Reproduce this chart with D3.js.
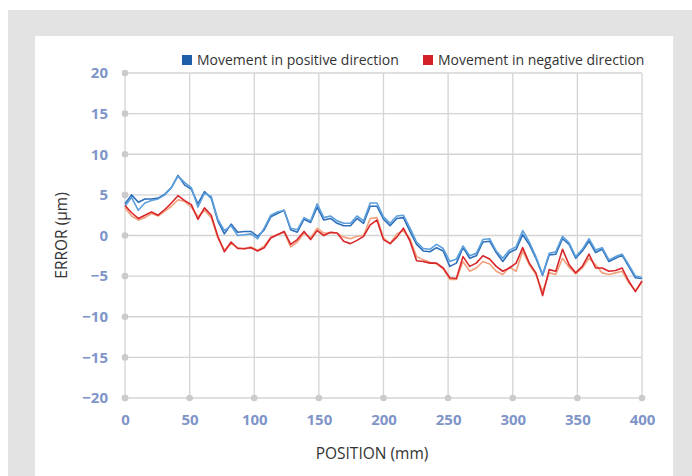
<!DOCTYPE html>
<html>
<head>
<meta charset="utf-8">
<script src="https://cdn.jsdelivr.net/npm/d3@7"></script>
<style>
    body { margin: 0; background: #ffffff; }
    svg { display: block; font-family: "Open Sans", "Noto Sans", sans-serif; }
</style>
</head>
<body>
<div id="chart"></div>
<script>
// measured positions (mm)
const positions = [
    0, 5.1, 10.3, 15.4, 20.5, 25.6, 30.8, 35.9, 41.0, 46.2,
    51.3, 56.4, 61.5, 66.7, 71.8, 76.9, 82.1, 87.2, 92.3, 97.4,
    102.6, 107.7, 112.8, 117.9, 123.1, 128.2, 133.3, 138.5, 143.6, 148.7,
    153.8, 159.0, 164.1, 169.2, 174.4, 179.5, 184.6, 189.7, 194.9, 200.0,
    205.1, 210.3, 215.4, 220.5, 225.6, 230.8, 235.9, 241.0, 246.2, 251.3,
    256.4, 261.5, 266.7, 271.8, 276.9, 282.1, 287.2, 292.3, 297.4, 302.6,
    307.7, 312.8, 317.9, 323.1, 328.2, 333.3, 338.5, 343.6, 348.7, 353.8,
    359.0, 364.1, 369.2, 374.4, 379.5, 384.6, 389.7, 394.9, 400.0,
];

// error (um), two runs per direction
const positiveRun1 = [
    3.9, 5.0, 4.1, 4.5, 4.5, 4.6, 5.1, 5.9, 7.4, 6.2,
    5.7, 3.9, 5.4, 4.6, 1.8, 0.2, 1.4, 0.4, 0.5, 0.5,
    -0.1, 0.7, 2.3, 2.7, 3.1, 0.7, 0.4, 2.0, 1.6, 3.5,
    1.9, 2.1, 1.5, 1.2, 1.2, 2.1, 1.5, 3.6, 3.6, 2.0,
    1.2, 2.1, 2.2, 0.5, -1.1, -1.9, -2.0, -1.5, -1.9, -3.8,
    -3.4, -1.5, -2.8, -2.5, -0.8, -0.7, -2.1, -3.2, -2.1, -1.7,
    0.1, -1.1, -2.8, -4.9, -2.4, -2.3, -0.4, -1.1, -2.8, -1.9,
    -0.7, -2.1, -1.7, -3.2, -2.8, -2.4, -3.8, -5.2, -5.3,
];
const positiveRun2 = [
    3.6, 4.7, 3.1, 4.0, 4.3, 4.5, 5.0, 5.9, 7.3, 6.5,
    5.9, 3.5, 5.2, 4.8, 2.0, 0.6, 1.2, 0.0, 0.1, 0.2,
    -0.4, 0.9, 2.5, 2.9, 3.1, 0.9, 0.7, 2.2, 1.8, 3.9,
    2.2, 2.4, 1.8, 1.5, 1.5, 2.4, 1.8, 4.0, 4.0, 2.3,
    1.5, 2.4, 2.5, 0.9, -0.8, -1.6, -1.7, -1.1, -1.6, -3.2,
    -2.9, -1.3, -2.5, -2.2, -0.5, -0.4, -1.9, -2.8, -1.8, -1.4,
    0.6, -0.8, -2.6, -4.8, -2.2, -2.0, -0.1, -0.9, -2.6, -1.7,
    -0.4, -1.8, -1.5, -3.0, -2.6, -2.3, -3.6, -5.0, -5.2,
];
const negativeRun1 = [
    3.7, 2.8, 2.1, 2.5, 2.9, 2.5, 3.2, 4.0, 4.9, 4.3,
    3.8, 2.0, 3.4, 2.5, -0.1, -2.0, -0.8, -1.6, -1.6, -1.5,
    -1.9, -1.5, -0.3, 0.1, 0.5, -1.1, -0.5, 0.5, -0.5, 0.6,
    0.0, 0.4, 0.3, -0.7, -1.0, -0.6, -0.1, 1.3, 1.9, -0.5,
    -1.0, -0.2, 0.9, -0.7, -3.1, -3.2, -3.4, -3.4, -4.0, -5.2,
    -5.3, -2.6, -3.8, -3.4, -2.5, -2.9, -3.8, -4.4, -4.0, -3.4,
    -1.5, -3.4, -4.6, -7.4, -4.2, -4.4, -1.7, -3.6, -4.6, -3.8,
    -2.3, -4.0, -4.0, -4.4, -4.3, -4.0, -5.6, -6.9, -5.6,
];
const negativeRun2 = [
    3.4, 2.4, 1.9, 2.2, 2.7, 2.4, 3.0, 3.6, 4.4, 4.2,
    3.5, 2.3, 3.1, 2.2, -0.3, -1.8, -1.0, -1.5, -1.7, -1.4,
    -1.8, -1.3, -0.2, 0.1, 0.4, -1.4, -0.8, 0.3, -0.3, 0.9,
    0.3, 0.3, 0.3, -0.2, -0.4, -0.1, 0.0, 2.1, 2.2, -0.3,
    -1.0, 0.2, 0.6, -0.4, -2.6, -3.0, -3.3, -3.5, -4.1, -5.4,
    -5.4, -3.2, -4.4, -4.0, -3.2, -3.5, -4.4, -4.8, -3.9, -4.4,
    -1.9, -3.6, -4.8, -6.9, -4.6, -4.8, -2.8, -3.9, -4.7, -4.0,
    -2.8, -3.6, -4.6, -4.8, -4.6, -4.4, -5.8, -6.8, -5.7,
];

const xTicks = [0, 50, 100, 150, 200, 250, 300, 350, 400];
const yTicks = [-20, -15, -10, -5, 0, 5, 10, 15, 20];
const legendLabels = ['Movement in positive direction', 'Movement in negative direction'];

const WIDTH = 692;
const HEIGHT = 476;
const TICK_COLOR = '#7f95c9';
const GRID_COLOR = '#d4d4d4';

const series = [
    { values: positiveRun1, color: '#2e6fba' },
    { values: positiveRun2, color: '#5c9fdc' },
    { values: negativeRun2, color: '#f2a07c' },
    { values: negativeRun1, color: '#d8262a' },
];

const svg = d3.select('#chart')
    .append('svg')
    .attr('width', WIDTH)
    .attr('height', HEIGHT);

// frame
svg.append('rect')
    .attr('x', 8).attr('y', 10)
    .attr('width', WIDTH - 8).attr('height', HEIGHT - 10)
    .attr('fill', '#e3e3e3');
svg.append('rect')
    .attr('x', 35).attr('y', 36)
    .attr('width', 638).attr('height', HEIGHT - 36)
    .attr('fill', '#ffffff');

const x = d3.scaleLinear().domain([0, 400]).range([125, 642]);
const y = d3.scaleLinear().domain([-20, 20]).range([398, 73]);

// grid
svg.append('g')
    .selectAll('line')
    .data(yTicks)
    .enter()
    .append('line')
    .attr('x1', x(0)).attr('x2', x(400))
    .attr('y1', d => y(d)).attr('y2', d => y(d))
    .attr('stroke', GRID_COLOR)
    .attr('stroke-width', 1.3);

svg.append('g')
    .selectAll('line')
    .data(xTicks)
    .enter()
    .append('line')
    .attr('x1', d => x(d)).attr('x2', d => x(d))
    .attr('y1', y(20)).attr('y2', y(-20))
    .attr('stroke', GRID_COLOR)
    .attr('stroke-width', 1.3);

// tick dots
svg.append('g')
    .selectAll('circle')
    .data(yTicks)
    .enter()
    .append('circle')
    .attr('cx', x(0)).attr('cy', d => y(d))
    .attr('r', 3.3)
    .attr('fill', '#cbcbcb');

svg.append('g')
    .selectAll('circle')
    .data(xTicks)
    .enter()
    .append('circle')
    .attr('cx', d => x(d)).attr('cy', y(-20))
    .attr('r', 3.3)
    .attr('fill', '#cbcbcb');

// axes, labels only
svg.append('g')
    .attr('transform', `translate(0,${y(-20) + 12})`)
    .call(d3.axisBottom(x).tickValues(xTicks).tickSize(0).tickPadding(4))
    .call(g => g.select('.domain').remove())
    .selectAll('text')
    .attr('fill', TICK_COLOR)
    .attr('font-size', 15)
    .attr('font-weight', 'bold')
    .attr('font-family', '"Open Sans", sans-serif');

svg.append('g')
    .attr('transform', `translate(${x(0) - 14},0)`)
    .call(d3.axisLeft(y).tickValues(yTicks).tickSize(0).tickPadding(3))
    .call(g => g.select('.domain').remove())
    .selectAll('text')
    .attr('fill', TICK_COLOR)
    .attr('font-size', 15)
    .attr('font-weight', 'bold')
    .attr('font-family', '"Open Sans", sans-serif');

// lines
const line = d3.line()
    .x((d, i) => x(positions[i]))
    .y(d => y(d));

svg.append('g')
    .selectAll('path')
    .data(series)
    .enter()
    .append('path')
    .attr('d', d => line(d.values))
    .attr('fill', 'none')
    .attr('stroke', d => d.color)
    .attr('stroke-width', 1.6)
    .attr('stroke-linejoin', 'round');

// axis titles
svg.append('text')
    .attr('x', 372).attr('y', 459)
    .attr('text-anchor', 'middle')
    .attr('font-size', 15.5)
    .attr('fill', '#333333')
    .text('POSITION (mm)');

svg.append('text')
    .attr('transform', `translate(67,${y(0)}) rotate(-90)`)
    .attr('text-anchor', 'middle')
    .attr('font-size', 15.5)
    .attr('fill', '#333333')
    .text('ERROR (µm)');

// legend
const legendColors = ['#1f5ea8', '#d42027'];
const legendX = [182, 423];
const legend = svg.append('g')
    .selectAll('g')
    .data(legendLabels)
    .enter()
    .append('g')
    .attr('transform', (d, i) => `translate(${legendX[i]},55)`);

legend.append('rect')
    .attr('width', 10).attr('height', 10)
    .attr('fill', (d, i) => legendColors[i]);

legend.append('text')
    .attr('x', 15).attr('y', 10)
    .attr('font-size', 14)
    .attr('fill', '#333333')
    .text(d => d);
</script>
</body>
</html>
